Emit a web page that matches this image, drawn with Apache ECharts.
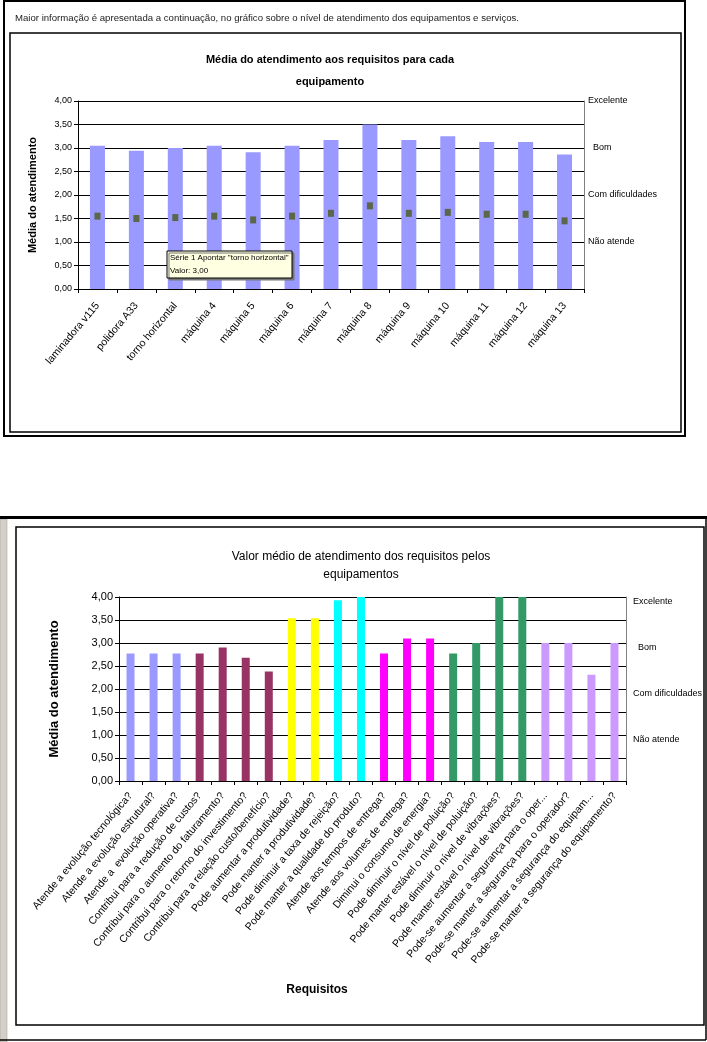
<!DOCTYPE html>
<html><head><meta charset="utf-8">
<script src="https://cdn.jsdelivr.net/npm/echarts@6/dist/echarts.min.js"></script>
<style>html,body{margin:0;padding:0;background:#fff}#c{width:707px;height:1042px}</style>
</head><body><div id="c"></div>
<script>
// ---- Data: chart 1 ----
const equipCategories = ['laminadora v115','polidora A33','torno horizontal','máquina 4','máquina 5','máquina 6','máquina 7','máquina 8','máquina 9','máquina 10','máquina 11','máquina 12','máquina 13'];
const equipBarValues = [3.05,2.94,3.00,3.05,2.91,3.05,3.17,3.50,3.17,3.25,3.13,3.13,2.86];
const equipPointValues = [1.55,1.50,1.52,1.55,1.47,1.55,1.61,1.77,1.61,1.63,1.59,1.59,1.45];
// ---- Data: chart 2 ----
const reqCategories = ['Atende a evolução tecnológica?','Atende a evolução estrutural?','Atende a  evolução operativa?','Contribui para a redução de custos?','Contribui para o aumento do faturamento?','Contribui para o retorno do investimento?','Contribui para a relação custo/benefício?','Pode aumentar a produtividade?','Pode manter a produtividade?','Pode diminuir a taxa de rejeição?','Pode manter a qualidade do produto?','Atende aos tempos de entrega?','Atende aos volumes de entrega?','Diminui o consumo de energia?','Pode diminuir o nível de poluição?','Pode manter estável o nível de poluição?','Pode diminuir o nível de vibrações?','Pode manter estável o nível de vibrações?','Pode-se aumentar a segurança para o oper...','Pode-se manter a segurança para o operador?','Pode-se aumentar a segurança do equipam...','Pode-se manter a segurança do equipamento?'];
const reqValues = [2.77,2.77,2.77,2.77,2.90,2.68,2.38,3.54,3.54,3.93,4.00,2.77,3.10,3.10,2.77,3.00,4.00,4.00,3.00,3.00,2.31,3.00];
const reqGroups = [0,0,0,1,1,1,1,2,2,3,3,4,4,4,5,5,5,5,6,6,6,6];
const groupColors = ['#9999FF','#993366','#FFFF00','#00FFFF','#FF00FF','#339966','#CC99FF'];
// ---- Tick / level labels ----
const levelValues = [4,3,2,1];
const levelLabels = ['Excelente','  Bom','Com dificuldades','Não atende'];
const tooltipLines = ['Série 1 Apontar "torno horizontal"','Valor: 3,00'];

const FONT = '"Liberation Sans", Arial, sans-serif';
const fmtComma = v => v.toFixed(2).replace('.', ',');
const levelFmt = v => { const i = levelValues.indexOf(v); return i >= 0 ? levelLabels[i] : ''; };

function leftY(gridIndex, fs, nameGap, nameFs) {
  return {
    type: 'value', gridIndex, min: 0, max: 4, interval: 0.5,
    name: 'Média do atendimento', nameLocation: 'middle', nameGap,
    nameTextStyle: { fontFamily: FONT, fontWeight: 'bold', fontSize: nameFs, color: '#000' },
    axisLine: { show: true, lineStyle: { color: '#000', width: 1 } },
    axisTick: { show: true, inside: false, length: 4, lineStyle: { color: '#000' } },
    axisLabel: { formatter: fmtComma, fontFamily: FONT, fontSize: fs, color: '#000', margin: 6 },
    splitLine: { show: true, lineStyle: { color: '#000', width: 1 } }
  };
}
function rightY(gridIndex, margin, vAlign) {
  return {
    type: 'value', gridIndex, position: 'right', min: 0, max: 4, interval: 1,
    axisLine: { show: true, lineStyle: { color: '#808080', width: 1 } },
    axisTick: { show: false },
    splitLine: { show: false },
    axisLabel: { formatter: levelFmt, fontFamily: FONT, fontSize: 9, color: '#000', margin, verticalAlign: vAlign }
  };
}
function catX(gridIndex, data, fs, rotate, margin) {
  return {
    type: 'category', gridIndex, data,
    axisLine: { show: true, lineStyle: { color: '#000', width: 1 } },
    axisTick: { show: true, length: 4, lineStyle: { color: '#000' } },
    axisLabel: { rotate, interval: 0, fontFamily: FONT, fontSize: fs, color: '#000', margin },
    splitLine: { show: false }
  };
}

const chart = echarts.init(document.getElementById('c'), null, { renderer: 'canvas' });
chart.setOption({
  animation: false,
  backgroundColor: '#fff',
  grid: [
    { left: 78, top: 101, width: 506, height: 188, containLabel: false, outerBoundsMode: 'none' },
    { left: 119, top: 597, width: 507, height: 184, containLabel: false, outerBoundsMode: 'none' }
  ],
  xAxis: [ catX(0, equipCategories, 10.5, 50, 15), catX(1, reqCategories, 10.5, 50, 13) ],
  yAxis: [ leftY(0, 9, 40, 11), rightY(0, 4, 'middle'), leftY(1, 11, 58, 13), rightY(1, 7, 'top') ],
  series: [
    { type: 'bar', xAxisIndex: 0, yAxisIndex: 0, data: equipBarValues, barWidth: 15,
      itemStyle: { color: '#9999FF' }, z: 3 },
    { type: 'scatter', xAxisIndex: 0, yAxisIndex: 0, data: equipPointValues,
      symbol: 'rect', symbolSize: [6, 7], itemStyle: { color: '#4B5A1C' }, z: 4 },
    { type: 'bar', xAxisIndex: 1, yAxisIndex: 2, barWidth: 8, z: 3,
      data: reqValues.map((v, i) => ({ value: v, itemStyle: { color: groupColors[reqGroups[i]] } })) }
  ],
  graphic: [
    // frames chart 1
    { type: 'rect', shape: { x: 4, y: 1, width: 681, height: 435 }, style: { fill: null, stroke: '#000', lineWidth: 2 }, z: 100 },
    { type: 'rect', shape: { x: 10, y: 33, width: 671, height: 399 }, style: { fill: null, stroke: '#000', lineWidth: 1.5 }, z: 100 },
    { type: 'text', style: { text: 'Maior informação é apresentada a continuação, no gráfico sobre o nível de atendimento dos equipamentos e serviços.', x: 15, y: 18, font: '9.6px ' + FONT, fill: '#222', textVerticalAlign: 'middle' } },
    { type: 'text', style: { text: 'Média do atendimento aos requisitos para cada', x: 330, y: 60, font: 'bold 11px ' + FONT, fill: '#000', textAlign: 'center', textVerticalAlign: 'middle' } },
    { type: 'text', style: { text: 'equipamento', x: 330, y: 82, font: 'bold 11px ' + FONT, fill: '#000', textAlign: 'center', textVerticalAlign: 'middle' } },
    // tooltip box
    { type: 'rect', shape: { x: 167, y: 251, width: 125, height: 27 }, style: { fill: '#FFFFE1', stroke: '#000', lineWidth: 1, shadowColor: '#777', shadowOffsetX: 2, shadowOffsetY: 2, shadowBlur: 0 }, z: 50 },
    { type: 'text', style: { text: tooltipLines[0], x: 170, y: 257.5, font: '8px ' + FONT, fill: '#000', textVerticalAlign: 'middle' }, z: 51 },
    { type: 'text', style: { text: tooltipLines[1], x: 170, y: 271, font: '8px ' + FONT, fill: '#000', textVerticalAlign: 'middle' }, z: 51 },
    // frames chart 2
    { type: 'rect', shape: { x: 0, y: 519, width: 7, height: 523 }, style: { fill: '#D4D0C8', stroke: '#9a9a9a', lineWidth: 0.5 }, z: 90 },
    { type: 'line', shape: { x1: 0, y1: 517.5, x2: 707, y2: 517.5 }, style: { stroke: '#000', lineWidth: 3 }, z: 100 },
    { type: 'line', shape: { x1: 706, y1: 517, x2: 706, y2: 1040 }, style: { stroke: '#000', lineWidth: 1.5 }, z: 100 },
    { type: 'line', shape: { x1: 0, y1: 1040, x2: 706, y2: 1040 }, style: { stroke: '#000', lineWidth: 1.5 }, z: 100 },
    { type: 'rect', shape: { x: 16, y: 527, width: 688, height: 498 }, style: { fill: null, stroke: '#000', lineWidth: 1.5 }, z: 100 },
    { type: 'text', style: { text: 'Valor médio de atendimento dos requisitos pelos', x: 361, y: 557, font: '12px ' + FONT, fill: '#000', textAlign: 'center', textVerticalAlign: 'middle' } },
    { type: 'text', style: { text: 'equipamentos', x: 361, y: 575, font: '12px ' + FONT, fill: '#000', textAlign: 'center', textVerticalAlign: 'middle' } },
    { type: 'text', style: { text: 'Requisitos', x: 317, y: 990, font: 'bold 12px ' + FONT, fill: '#000', textAlign: 'center', textVerticalAlign: 'middle' } }
  ]
});
</script>
</body></html>
